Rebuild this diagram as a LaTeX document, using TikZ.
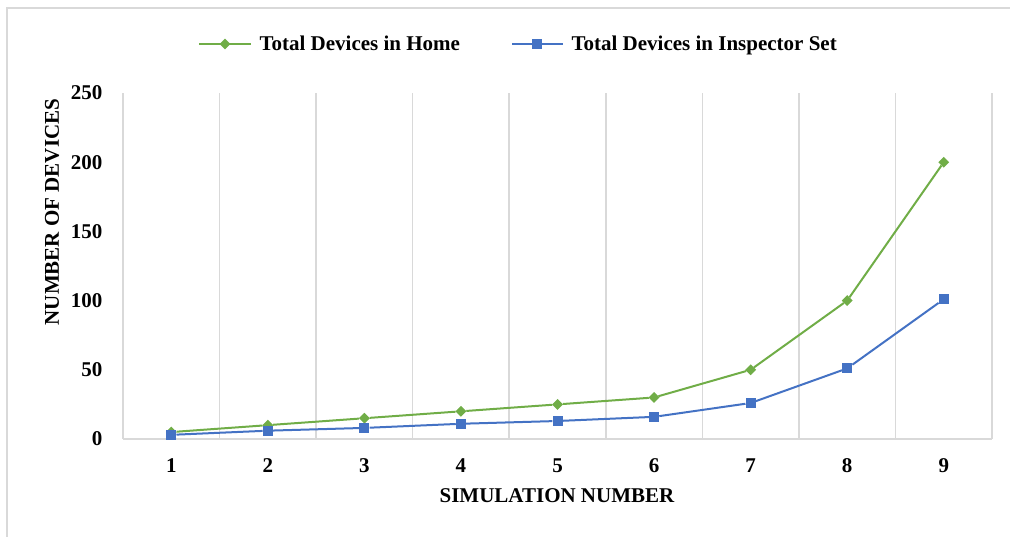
\documentclass[tikz,border=0pt]{standalone}
\usepackage{fontspec}
\setmainfont{Liberation Serif}
\usetikzlibrary{shapes.geometric}
\definecolor{homegreen}{HTML}{70AD47}
\definecolor{inspblue}{HTML}{4472C4}
\definecolor{gridgray}{HTML}{D9D9D9}
\tikzset{
  homemark/.style={diamond, fill=homegreen, inner sep=0pt, minimum size=11pt},
  inspmark/.style={rectangle, fill=inspblue, inner sep=0pt, minimum size=10pt},
  chartfont/.style={font=\bfseries\fontsize{21}{21}\selectfont},
  legendtext/.style={chartfont, anchor=base west},
  gridline/.style={gridgray, line width=1.5pt},
}

\begin{document}
\begin{tikzpicture}[x=1pt, y=1pt]
\useasboundingbox (0,0) rectangle (1010,537);
\draw[gridline] (7,0) -- (7,529) -- (1010,529);

% legend
\coordinate (lgha) at (199,493);
\coordinate (lghb) at (251,493);
\draw[homegreen, line width=2pt] (lgha) -- (lghb);
\node[homemark] (lghm) at (225,493) {};
\node[legendtext] (lght) at (256,486) {Total Devices in Home};
\coordinate (lgsa) at (512,493);
\coordinate (lgsb) at (563,493);
\draw[inspblue, line width=2pt] (lgsa) -- (lgsb);
\node[inspmark] (lgsm) at (537,493) {};
\node[legendtext] (lgst) at (568,486) {Total Devices in Inspector Set};

% axis titles
\node[chartfont, rotate=90] (ytitle) at (52,325) {NUMBER OF DEVICES};
\node[chartfont] (xtitle) at (557,41) {SIMULATION NUMBER};

\begin{scope}[shift={(123,98)}, x=96.56pt, y=1.384pt]
\foreach \i in {0,...,9}
  \draw[gridline] (\i,0) -- (\i,250);
\draw[gridline] (0,0) -- (9,0);

\foreach \v in {0,50,...,250}
  \node[chartfont, anchor=east, xshift=-17pt] (yl\v) at (0,\v) {\v};
\foreach \i in {1,...,9}
  \node[chartfont, yshift=-27pt] (xl\i) at (\i-0.5,0) {\i};

\foreach \i/\h/\s in {1/5/3, 2/10/6, 3/15/8, 4/20/11, 5/25/13, 6/30/16, 7/50/26, 8/100/51, 9/200/101} {
  \node[homemark] (h\i) at (\i-0.5,\h) {};
  \node[inspmark] (s\i) at (\i-0.5,\s) {};
}
\foreach \i [evaluate=\i as \j using int(\i+1)] in {1,...,8} {
  \draw[homegreen, line width=2pt] (h\i) -- (h\j);
  \draw[inspblue, line width=2pt] (s\i) -- (s\j);
}
\end{scope}
\end{tikzpicture}
\end{document}
